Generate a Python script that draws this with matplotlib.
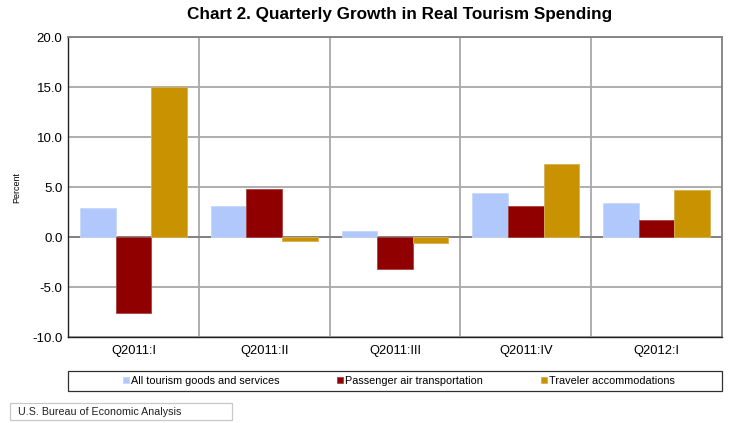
import numpy as np
import matplotlib
matplotlib.use("Agg")
import matplotlib.pyplot as plt
from matplotlib.patches import Rectangle

plt.rcParams['font.family'] = ['Liberation Sans', 'DejaVu Sans']

quarters = ["Q2011:I", "Q2011:II", "Q2011:III", "Q2011:IV", "Q2012:I"]
all_tourism = [2.9, 3.1, 0.6, 4.4, 3.4]
air_transport = [-7.6, 4.8, -3.2, 3.1, 1.7]
accommodations = [15.0, -0.4, -0.6, 7.3, 4.7]

series = ["All tourism goods and services", "Passenger air transportation", "Traveler accommodations"]
colors = ["#b0c8fc", "#900000", "#c89200"]
edges = ["#c8d8f8", "#a84040", "#d8b050"]

fig = plt.figure(figsize=(7.3, 4.23), dpi=100)
ax = fig.add_axes([68/730, 1 - 337/423, 654/730, 300/423])

x = np.arange(len(quarters))
w = 0.272
for i, vals in enumerate([all_tourism, air_transport, accommodations]):
    ax.bar(x + (i - 1) * w, vals, w, color=colors[i], edgecolor=edges[i],
           linewidth=0.6, label=series[i], zorder=3)

ax.set_xlim(-0.5, len(quarters) - 0.5)
ax.set_ylim(-10, 20)
ax.set_yticks(np.arange(-10, 21, 5))
ax.set_yticklabels([f"{v:.1f}" for v in np.arange(-10, 21, 5)], fontsize=9.5)
ax.set_xticks(x)
ax.set_xticklabels(quarters, fontsize=9.3)
ax.tick_params(axis="both", length=0, pad=4)
ax.tick_params(axis="x", pad=6)

ax.yaxis.grid(True, color="#a8a8a8", linewidth=1.3, zorder=1)
for b in np.arange(0.5, len(quarters) - 1, 1):
    ax.axvline(b, color="#a8a8a8", linewidth=1.3, zorder=1)
ax.axhline(0, color="#808080", linewidth=1.3, zorder=2)

for s in ["top", "right"]:
    ax.spines[s].set_color("#808080")
    ax.spines[s].set_linewidth(1.3)
for s in ["left", "bottom"]:
    ax.spines[s].set_color("#202020")
    ax.spines[s].set_linewidth(1.0)

ax.set_ylabel("Percent", fontsize=6.5, labelpad=8)

fig.text(400/730, 1 - 14/423, "Chart 2. Quarterly Growth in Real Tourism Spending",
         ha="center", va="center", fontsize=12.3, fontweight="bold")

# legend box
fig.patches.append(Rectangle((68/730, 1 - 391/423), 654/730, 20/423,
                             transform=fig.transFigure, fill=False,
                             edgecolor="#303030", linewidth=0.9))
handles, labels = ax.get_legend_handles_labels()
fig.legend(handles, labels, loc="center", bbox_to_anchor=(399/730, 1 - 381/423),
           ncol=3, frameon=False, fontsize=7.8, handlelength=0.55, handleheight=0.55,
           handletextpad=0.2, columnspacing=5.3)

# source box
fig.patches.append(Rectangle((10/730, 1 - 420/423), 222/730, 17/423,
                             transform=fig.transFigure, fill=False,
                             edgecolor="#c8c8c8", linewidth=0.9))
fig.text(18/730, 1 - 412/423, "U.S. Bureau of Economic Analysis",
         ha="left", va="center", fontsize=7.7, color="#202020")

fig.savefig("out.png", dpi=100)
